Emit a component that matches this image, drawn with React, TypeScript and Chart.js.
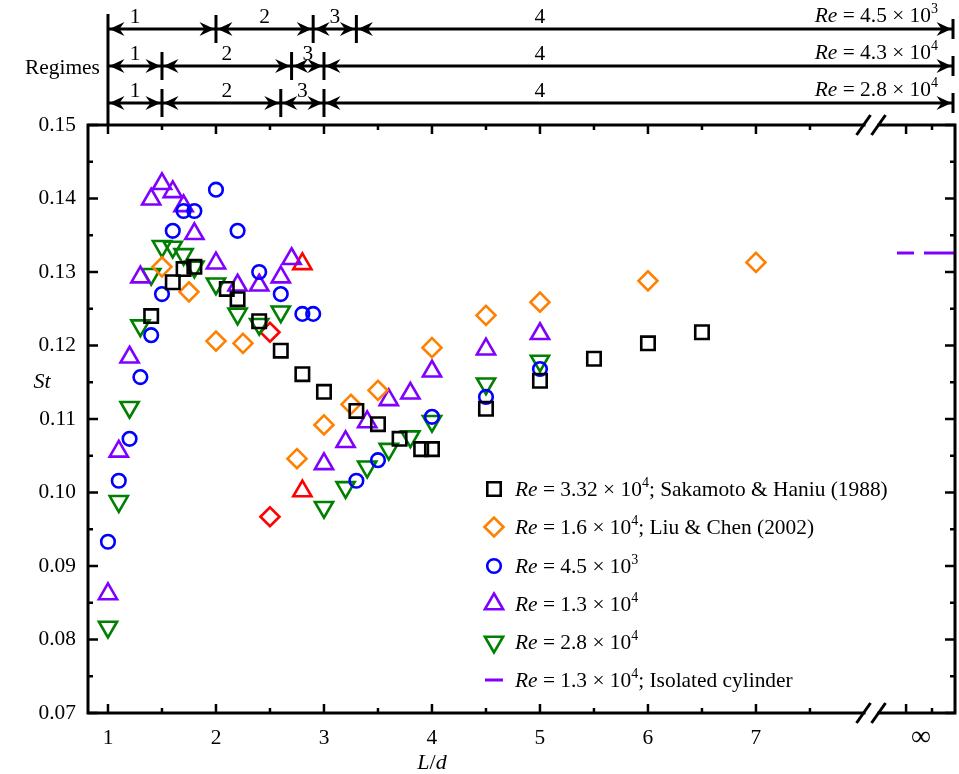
import React, { useEffect, useRef } from 'react';
import { Chart, registerables } from 'chart.js';

Chart.register(...registerables);

// ---------- axis data ----------
const yTicks = [0.07, 0.08, 0.09, 0.1, 0.11, 0.12, 0.13, 0.14, 0.15];
const yMinorTicks = [0.075, 0.085, 0.095, 0.105, 0.115, 0.125, 0.135, 0.145];
const xTicks = [1, 2, 3, 4, 5, 6, 7];
const xMinorTicks = [1.5, 2.5, 3.5, 4.5, 5.5, 6.5, 7.5, 8.63];
const infTick = 8.39;
const infLabel = '∞';
const breakX = 8.07;
const X_MIN = 0.815;
const X_MAX = 8.843;

// ---------- series ----------
const sakamotoX = [1.4, 1.6, 1.7, 1.8, 2.1, 2.2, 2.4, 2.6, 2.8, 3.0, 3.3, 3.5, 3.7, 3.9, 4.0, 4.5, 5.0, 5.5, 6.0, 6.5];
const sakamotoY = [0.124, 0.1286, 0.1304, 0.1307, 0.1277, 0.1263, 0.1233, 0.1193, 0.1161, 0.1137, 0.1111, 0.1093, 0.1073, 0.1059, 0.1059, 0.1114, 0.1152, 0.1182, 0.1203, 0.1218];

const liuX = [1.5, 1.75, 2.0, 2.25, 2.75, 3.0, 3.25, 3.5, 4.0, 4.5, 5.0, 6.0, 7.0];
const liuY = [0.1307, 0.1273, 0.1206, 0.1203, 0.1046, 0.1092, 0.112, 0.1139, 0.1197, 0.1241, 0.1259, 0.1288, 0.1313];
const liuBiX = [2.5, 2.5];
const liuBiY = [0.1218, 0.0967];

const re45X = [1.0, 1.1, 1.2, 1.3, 1.4, 1.5, 1.6, 1.7, 1.8, 2.0, 2.2, 2.4, 2.6, 2.8, 2.9, 3.3, 3.5, 4.0, 4.5, 5.0];
const re45Y = [0.0933, 0.1016, 0.1073, 0.1157, 0.1214, 0.127, 0.1356, 0.1383, 0.1383, 0.1412, 0.1356, 0.13, 0.127, 0.1243, 0.1243, 0.1016, 0.1044, 0.1103, 0.113, 0.1168];

const re13X = [1.0, 1.1, 1.2, 1.3, 1.4, 1.5, 1.6, 1.7, 1.8, 2.0, 2.2, 2.4, 2.6, 2.7, 3.0, 3.2, 3.4, 3.6, 3.8, 4.0, 4.5, 5.0];
const re13Y = [0.0862, 0.1056, 0.1184, 0.1293, 0.1399, 0.142, 0.1409, 0.139, 0.1352, 0.1312, 0.1282, 0.1282, 0.1293, 0.1318, 0.1039, 0.1069, 0.1096, 0.1126, 0.1135, 0.1165, 0.1195, 0.1216];
const re13BiX = [2.8, 2.8];
const re13BiY = [0.1311, 0.1002];

const re28X = [1.0, 1.1, 1.2, 1.3, 1.4, 1.5, 1.6, 1.7, 1.8, 2.0, 2.2, 2.4, 2.6, 3.0, 3.2, 3.4, 3.6, 3.8, 4.0, 4.5, 5.0];
const re28Y = [0.0817, 0.0988, 0.1116, 0.1227, 0.1297, 0.1335, 0.1334, 0.1324, 0.1307, 0.1284, 0.1243, 0.1229, 0.1246, 0.098, 0.1007, 0.1035, 0.1059, 0.1076, 0.1097, 0.1148, 0.1179];

const isolatedX = [8.306, X_MAX];
const isolatedY = [0.1326, 0.1326];

// ---------- legend ----------
const legendMantissa = ['3.32', '1.6', '4.5', '1.3', '2.8', '1.3'];
const legendExp = ['4', '4', '3', '4', '4', '4'];
const legendSuffix = ['; Sakamoto & Haniu (1988)', '; Liu & Chen (2002)', '', '', '', '; Isolated cylinder'];
const legendShapes = ['square', 'diamond', 'circle', 'triUp', 'triDown', 'line'];

// ---------- regimes ----------
const regimeRe = ['4.5', '4.3', '2.8'];
const regimeExp = ['3', '4', '4'];
const regimeBounds = [[2.0, 2.9, 3.3], [1.5, 2.7, 3.0], [1.5, 2.6, 3.0]];
const regimeLabelX = [[1.25, 2.45, 3.1, 5.0], [1.25, 2.1, 2.85, 5.0], [1.25, 2.1, 2.8, 5.0]];
const regimeNames = ['1', '2', '3', '4'];

const BLACK = '#000000';
const ORANGE = '#FF8000';
const BLUE = '#0000FF';
const PURPLE = '#8000FF';
const GREEN = '#008000';
const RED = '#FF0000';
const SERIF = '"Liberation Serif", "Times New Roman", serif';
const FS = 21.4;

const pts = (xs: number[], ys: number[]) => xs.map((x, i) => ({ x, y: ys[i] }));

type Part = { t: string; it?: boolean; sup?: boolean };

function fontFor(p: Part, size: number) {
  const s = p.sup ? Math.round(size * 0.66) : size;
  return `${p.it ? 'italic ' : ''}${s}px ${SERIF}`;
}

function drawRich(ctx: CanvasRenderingContext2D, parts: Part[], x: number, y: number, size: number, align: 'left' | 'right' | 'center') {
  let total = 0;
  for (const p of parts) {
    ctx.font = fontFor(p, size);
    total += ctx.measureText(p.t).width;
  }
  let cx = align === 'left' ? x : align === 'right' ? x - total : x - total / 2;
  ctx.textAlign = 'left';
  ctx.textBaseline = 'alphabetic';
  for (const p of parts) {
    ctx.font = fontFor(p, size);
    ctx.fillText(p.t, cx, p.sup ? y - size * 0.42 : y);
    cx += ctx.measureText(p.t).width;
  }
}

function reParts(m: string, e: string, suffix: string): Part[] {
  const parts: Part[] = [{ t: 'Re', it: true }, { t: ' = ' + m + ' × 10' }, { t: e, sup: true }];
  if (suffix) parts.push({ t: suffix });
  return parts;
}

function drawMarker(ctx: CanvasRenderingContext2D, shape: string, x: number, y: number, color: string) {
  ctx.save();
  ctx.strokeStyle = color;
  ctx.lineWidth = 2.6;
  ctx.beginPath();
  if (shape === 'square') {
    const s = 6.7;
    ctx.rect(x - s, y - s, 2 * s, 2 * s);
  } else if (shape === 'diamond') {
    const r = 9.5;
    ctx.moveTo(x - r, y); ctx.lineTo(x, y - r); ctx.lineTo(x + r, y); ctx.lineTo(x, y + r); ctx.closePath();
  } else if (shape === 'circle') {
    ctx.arc(x, y, 6.8, 0, Math.PI * 2);
  } else if (shape === 'triUp' || shape === 'triDown') {
    const r = 10.5;
    const rot = shape === 'triUp' ? 0 : Math.PI;
    for (let k = 0; k < 3; k++) {
      const a = rot + k * (2 * Math.PI / 3);
      const px = x + Math.sin(a) * r;
      const py = y - Math.cos(a) * r;
      if (k === 0) ctx.moveTo(px, py); else ctx.lineTo(px, py);
    }
    ctx.closePath();
  } else if (shape === 'line') {
    ctx.lineWidth = 3;
    ctx.moveTo(x - 9, y); ctx.lineTo(x + 9, y);
  }
  ctx.stroke();
  ctx.restore();
}

function arrowHead(ctx: CanvasRenderingContext2D, tipX: number, y: number, dir: number) {
  ctx.beginPath();
  ctx.moveTo(tipX, y);
  ctx.lineTo(tipX - dir * 15, y - 7);
  ctx.lineTo(tipX - dir * 10, y);
  ctx.lineTo(tipX - dir * 15, y + 7);
  ctx.closePath();
  ctx.fill();
}

const decorPlugin = {
  id: 'decor',
  afterDraw(chart: any) {
    const ctx: CanvasRenderingContext2D = chart.ctx;
    const xs = chart.scales.x;
    const ys = chart.scales.y;
    const { left, right, top, bottom } = chart.chartArea;
    ctx.save();
    ctx.strokeStyle = BLACK;
    ctx.fillStyle = BLACK;
    ctx.lineCap = 'butt';

    // frame
    ctx.lineWidth = 3;
    ctx.strokeRect(left, top, right - left, bottom - top);

    // y ticks
    const yTick = (v: number, len: number) => {
      const py = ys.getPixelForValue(v);
      ctx.beginPath();
      ctx.moveTo(left, py); ctx.lineTo(left + len, py);
      ctx.moveTo(right, py); ctx.lineTo(right - len, py);
      ctx.stroke();
    };
    ctx.lineWidth = 2.5;
    yTicks.forEach(v => yTick(v, 10));
    yMinorTicks.forEach(v => yTick(v, 5));
    const xTick = (v: number, len: number) => {
      const px = xs.getPixelForValue(v);
      ctx.beginPath();
      ctx.moveTo(px, bottom); ctx.lineTo(px, bottom - len);
      ctx.moveTo(px, top); ctx.lineTo(px, top + len);
      ctx.stroke();
    };
    xTicks.forEach(v => xTick(v, 9));
    xTick(infTick, 9);
    xMinorTicks.forEach(v => xTick(v, 5));

    // axis breaks
    const bx = xs.getPixelForValue(breakX);
    [top, bottom].forEach(py => {
      ctx.fillStyle = '#fff';
      ctx.fillRect(bx - 6, py - 2.5, 12, 5);
      ctx.fillStyle = BLACK;
      ctx.lineWidth = 3;
      [-8, 7].forEach(off => {
        ctx.beginPath();
        ctx.moveTo(bx + off - 7, py + 10);
        ctx.lineTo(bx + off + 7, py - 10);
        ctx.stroke();
      });
    });

    // infinity label
    ctx.fillStyle = BLACK;
    ctx.font = `28px ${SERIF}`;
    ctx.textAlign = 'center';
    ctx.textBaseline = 'middle';
    ctx.fillText(infLabel, xs.getPixelForValue(infTick) + 15, 738);

    // axis titles
    drawRich(ctx, [{ t: 'L', it: true }, { t: '/' }, { t: 'd', it: true }], 432, 769, 22, 'center');
    drawRich(ctx, [{ t: 'St', it: true }], 42, 388, 22, 'center');

    // legend
    const lx = 494;
    const lTextX = 515;
    const rowY = [489, 527, 566, 604, 642, 680];
    const colors = [BLACK, ORANGE, BLUE, PURPLE, GREEN, PURPLE];
    legendShapes.forEach((s, i) => {
      drawMarker(ctx, s, lx, rowY[i], colors[i]);
      ctx.fillStyle = BLACK;
      drawRich(ctx, reParts(legendMantissa[i], legendExp[i], legendSuffix[i]), lTextX, rowY[i] + 7, FS, 'left');
    });

    // regimes
    const rows = [29, 66, 103];
    const x0 = xs.getPixelForValue(1);
    const xEnd = right - 2;
    ctx.lineWidth = 3;
    ctx.beginPath();
    ctx.moveTo(x0, 14); ctx.lineTo(x0, top);
    ctx.stroke();
    rows.forEach((ry, r) => {
      ctx.lineWidth = 3;
      ctx.beginPath();
      ctx.moveTo(x0, ry); ctx.lineTo(xEnd, ry);
      ctx.stroke();
      ctx.beginPath();
      ctx.moveTo(xEnd, ry - 10); ctx.lineTo(xEnd, ry + 10);
      ctx.stroke();
      const edges = [x0, ...regimeBounds[r].map(b => xs.getPixelForValue(b)), xEnd];
      regimeBounds[r].forEach(b => {
        const px = xs.getPixelForValue(b);
        ctx.beginPath();
        ctx.moveTo(px, ry - 14); ctx.lineTo(px, ry + 14);
        ctx.stroke();
      });
      for (let k = 0; k < edges.length - 1; k++) {
        arrowHead(ctx, edges[k] + 1.5, ry, -1);
        arrowHead(ctx, edges[k + 1] - 1.5, ry, 1);
      }
      ctx.font = `${FS}px ${SERIF}`;
      ctx.textAlign = 'center';
      ctx.textBaseline = 'alphabetic';
      regimeNames.forEach((n, k) => {
        ctx.fillText(n, xs.getPixelForValue(regimeLabelX[r][k]), ry - 6);
      });
      drawRich(ctx, reParts(regimeRe[r], regimeExp[r], ''), 938, ry - 7, FS, 'right');
    });
    ctx.font = `${FS}px ${SERIF}`;
    ctx.textAlign = 'left';
    ctx.textBaseline = 'middle';
    ctx.fillText('Regimes', 25, 68);

    ctx.restore();
  },
};

export default function App() {
  const ref = useRef<HTMLCanvasElement>(null);
  useEffect(() => {
    if (!ref.current) return;
    const scatterSet = (data: any[], style: string, color: string, radius: number, rotation = 0) => ({
      type: 'scatter',
      data,
      pointStyle: style,
      pointRadius: radius,
      pointRotation: rotation,
      borderColor: color,
      backgroundColor: 'rgba(0,0,0,0)',
      borderWidth: 2.6,
      showLine: false,
    });
    const chart = new Chart(ref.current, {
      type: 'scatter',
      data: {
        datasets: [
          scatterSet(pts(sakamotoX, sakamotoY), 'rect', BLACK, 9.5),
          scatterSet(pts(liuX, liuY), 'rectRot', ORANGE, 9.5),
          scatterSet(pts(re45X, re45Y), 'circle', BLUE, 6.8),
          scatterSet(pts(re13X, re13Y), 'triangle', PURPLE, 10.5),
          scatterSet(pts(re28X, re28Y), 'triangle', GREEN, 10.5, 180),
          scatterSet(pts(liuBiX, liuBiY), 'rectRot', RED, 9.5),
          scatterSet(pts(re13BiX, re13BiY), 'triangle', RED, 10.5),
          {
            type: 'line',
            data: pts(isolatedX, isolatedY),
            borderColor: PURPLE,
            borderWidth: 3,
            borderDash: [17, 10, 40],
            pointRadius: 0,
            showLine: true,
          },
        ] as any,
      },
      options: {
        responsive: false,
        animation: false,
        events: [],
        layout: { autoPadding: false, padding: { top: 125, right: 4, left: 0, bottom: 0 } },
        plugins: { legend: { display: false }, tooltip: { enabled: false } },
        scales: {
          x: {
            type: 'linear',
            min: X_MIN,
            max: X_MAX,
            grid: { display: false, drawTicks: false },
            border: { display: false },
            afterBuildTicks: (s: any) => { s.ticks = xTicks.map(v => ({ value: v })); },
            afterFit: (s: any) => { s.height = 61; },
            ticks: {
              color: BLACK,
              font: { family: SERIF, size: FS },
              padding: 13,
              maxRotation: 0,
              autoSkip: false,
              callback: (v: any) => String(v),
            },
          },
          y: {
            type: 'linear',
            min: 0.07,
            max: 0.15,
            grid: { display: false, drawTicks: false },
            border: { display: false },
            afterBuildTicks: (s: any) => { s.ticks = yTicks.map(v => ({ value: v })); },
            afterFit: (s: any) => { s.width = 88; },
            ticks: {
              color: BLACK,
              font: { family: SERIF, size: FS },
              padding: 12,
              autoSkip: false,
              callback: (v: any) => Number(v).toFixed(2),
            },
          },
        },
      } as any,
      plugins: [decorPlugin],
    });
    return () => chart.destroy();
  }, []);
  return (
    <div style={{ position: 'fixed', left: 0, top: 0, width: 959, height: 774, background: '#fff' }}>
      <canvas ref={ref} width={959} height={774} style={{ display: 'block', width: 959, height: 774 }} />
    </div>
  );
}
